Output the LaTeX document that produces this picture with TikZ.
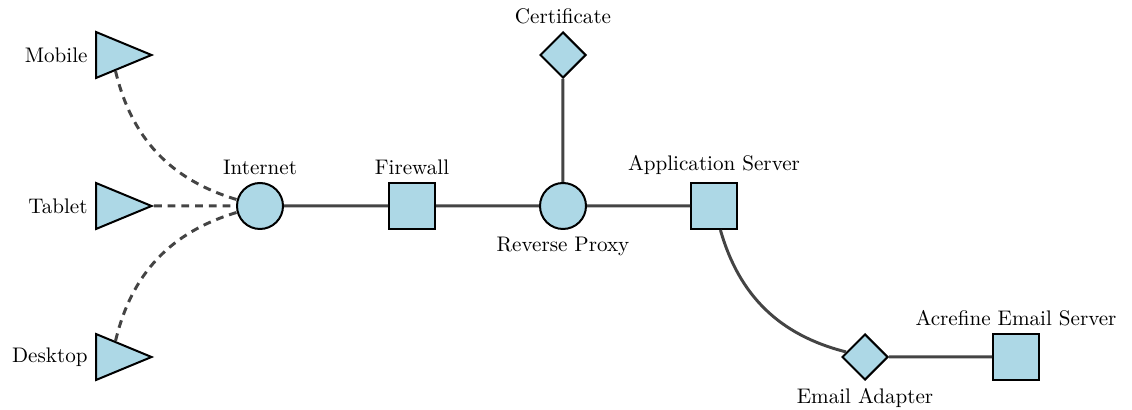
\documentclass[tikz,border=0pt]{standalone}
\usetikzlibrary{shapes.geometric}
\definecolor{nodefill}{HTML}{ADD8E6}
\definecolor{linkgray}{HTML}{444444}
\begin{document}
\begin{tikzpicture}[x=0.474pt,y=-0.474pt,
  box/.style={draw=black, line width=0.95pt, fill=nodefill, minimum size=21.8pt, inner sep=0pt},
  sq/.style={box, rectangle},
  circ/.style={box, circle},
  dia/.style={box, diamond},
  tri/.style={box, isosceles triangle, isosceles triangle apex angle=45, minimum width=21.8pt, minimum height=21.8pt},
  link/.style={draw=linkgray, line width=1.4pt},
  dlink/.style={link, dash pattern=on 3.7pt off 2.8pt},
  straight/.style={bend left=0.1}]
\useasboundingbox (0,0) rectangle (1132,410);
% devices
\node[tri, anchor=west, label={left:Mobile}] (mobile) at (95,55) {};
\node[tri, anchor=west, label={left:Tablet}] (tablet) at (95,206) {};
\node[tri, anchor=west, label={left:Desktop}] (desktop) at (95,357) {};
% main chain
\node[circ, label={above:Internet}] (inet) at (260,206) {};
\node[sq, label={above:Firewall}] (fw) at (412,206) {};
\node[circ, label={below:Reverse Proxy}] (proxy) at (563,206) {};
\node[dia, label={above:Certificate}] (cert) at (563,55) {};
\node[sq, label={above:Application Server}] (app) at (714,206) {};
\node[dia, label={below:Email Adapter}] (adapter) at (865,357) {};
\node[sq, label={above:Acrefine Email Server}] (mail) at (1016,357) {};
% connectors
\draw[dlink] (mobile) to[bend right=30] (inet);
\draw[dlink] (tablet) to[straight] (inet);
\draw[dlink] (desktop) to[bend left=30] (inet);
\draw[link] (inet) to[straight] (fw);
\draw[link] (fw) to[straight] (proxy);
\draw[link] (proxy) to[straight] (cert);
\draw[link] (proxy) to[straight] (app);
\draw[link] (app) to[bend right=30] (adapter);
\draw[link] (adapter) to[straight] (mail);
\end{tikzpicture}
\end{document}
